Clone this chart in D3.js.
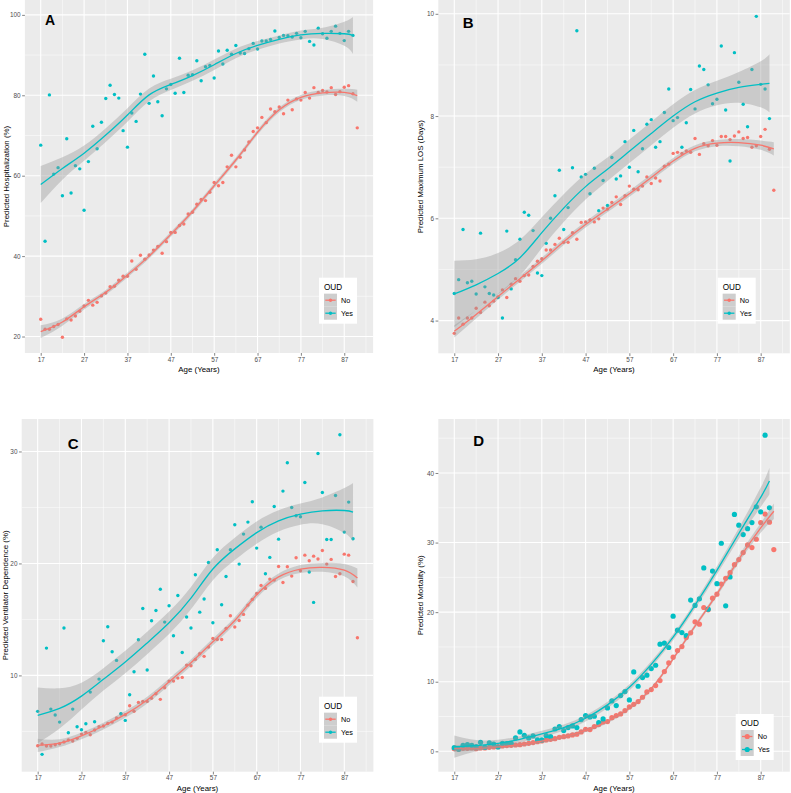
<!DOCTYPE html>
<html><head><meta charset="utf-8">
<script src="https://cdn.jsdelivr.net/npm/d3@7"></script>
<style>body{margin:0;background:#fff} svg{display:block} text{font-family:"Liberation Sans",Arial,sans-serif}</style>
</head><body><svg id="c" width="791" height="793"></svg>
<script>
// ---------- DATA ----------
const groups = ["No", "Yes"];
const groupColors = ["#F8766D", "#00BFC4"];
const agesNo = [17,18,19,20,21,22,23,24,25,26,27,28,29,30,31,32,33,34,35,36,37,38,39,40,41,42,43,44,45,46,47,48,49,50,51,52,53,54,55,56,57,58,59,60,61,62,63,64,65,66,67,68,69,70,71,72,73,74,75,76,77,78,79,80,81,82,83,84,85,86,87,88,89,90];
const agesYes = [17,18,19,20,21,22,23,24,25,26,27,28,29,30,31,32,33,34,35,36,37,38,39,40,41,42,43,44,45,46,47,48,49,50,51,52,53,54,55,56,57,58,59,60,61,62,63,64,65,66,67,68,69,70,71,72,73,74,75,76,77,78,79,80,81,82,83,84,85,86,87,88,89];
const xTicks = [17,27,37,47,57,67,77,87];
const xMinor = [22,32,42,52,62,72,82,92];

// Panel A: hospitalization (%)
const hospNo = [24.3,21.8,21.8,22.5,23.0,19.8,24.4,24.1,25.1,26.3,27.6,29.0,27.8,28.5,30.1,30.8,32.4,32.5,34.0,35.0,35.0,38.8,36.7,40.2,39.2,40.3,41.5,42.4,40.7,43.6,45.9,45.9,47.6,48.0,50.5,50.9,52.9,54.1,53.8,55.9,58.3,57.5,58.3,62.2,65.1,62.2,64.6,66.4,68.4,71.0,71.9,74.5,73.2,76.6,75.9,77.1,75.4,78.8,76.4,79.1,78.8,80.7,79.3,81.9,80.7,81.2,80.8,81.9,80.2,80.9,82.0,82.4,80.4,71.9];
const hospYes = [67.6,43.7,80.1,60.4,62.0,55.0,69.2,55.7,62.5,61.7,51.4,63.5,72.3,66.7,73.3,79.2,82.5,80.2,79.3,71.2,67.1,75.6,73.5,80.3,90.2,78.0,84.8,78.4,74.9,81.6,82.7,80.5,89.2,80.7,85.0,85.1,88.6,83.6,87.1,87.4,84.3,91.0,87.8,91.2,90.2,92.4,90.5,90.4,91.6,92.9,91.5,93.5,93.5,93.9,96.0,94.4,94.9,94.8,94.5,95.4,94.3,95.9,93.4,92.5,96.7,95.3,94.2,95.9,97.2,95.4,93.6,95.9,94.9];
// Panel B: maximum LOS (days)
const losNo = [3.75,4.05,3.93,4.05,4.05,4.24,4.16,4.36,4.29,4.38,4.46,4.60,4.45,4.71,4.82,4.77,4.88,4.89,5.06,5.16,5.21,5.38,5.38,5.49,5.61,5.53,5.53,5.72,5.59,5.92,5.93,5.97,5.93,5.99,6.20,6.18,6.31,6.42,6.27,6.44,6.63,6.57,6.56,6.63,6.81,6.68,6.79,6.73,7.02,7.06,7.27,7.29,7.27,7.32,7.29,7.56,7.25,7.46,7.42,7.52,7.43,7.60,7.60,7.54,7.61,7.69,7.56,7.58,7.39,7.42,7.60,7.74,7.35,6.55];
const losYes = [4.53,4.80,5.78,4.74,4.77,4.52,5.71,4.66,4.53,4.50,4.45,4.05,5.75,4.62,5.19,5.59,6.12,6.06,5.76,4.93,4.88,5.51,6.00,6.44,6.94,5.78,6.21,6.99,9.67,6.81,6.86,6.48,6.98,6.15,6.74,6.25,7.19,6.77,6.83,7.50,7.00,7.72,6.91,7.36,7.84,7.93,7.39,7.50,8.07,8.53,7.91,7.97,7.39,7.87,8.52,8.14,8.98,8.91,8.61,8.24,8.33,9.37,8.12,7.12,9.24,8.66,8.23,7.79,8.91,9.95,8.62,8.53,7.95];
// Panel C: ventilator dependence (%)
const ventNo = [3.72,3.87,3.69,3.69,3.81,3.90,4.05,4.23,4.14,4.38,4.76,4.91,4.70,5.12,5.42,5.48,5.71,5.83,6.19,6.55,6.49,7.29,6.79,7.59,7.68,7.68,7.95,8.36,7.86,8.90,9.49,9.49,9.76,9.82,10.92,10.86,11.43,11.93,11.70,12.53,13.30,13.21,13.21,14.20,15.33,14.32,14.91,15.45,16.28,16.79,17.32,18.04,17.77,18.60,18.51,19.73,18.30,19.70,18.87,20.51,19.35,20.74,20.24,20.65,20.39,21.16,19.94,20.36,18.84,19.08,20.83,20.74,18.39,13.36];
const ventYes = [6.79,2.95,12.44,6.99,6.46,5.83,14.23,4.88,6.99,5.42,5.15,5.68,8.51,5.86,9.67,13.10,14.35,12.11,11.34,6.58,5.98,8.27,10.33,13.18,15.98,10.48,14.88,15.80,17.70,14.76,16.22,13.54,17.14,12.05,15.21,14.23,18.99,15.65,16.82,20.09,14.70,21.22,16.31,18.84,21.22,23.45,19.94,22.62,23.69,25.51,21.37,23.24,19.08,20.54,25.09,22.17,26.46,28.99,25.00,24.26,24.17,27.23,19.23,16.52,29.82,26.34,22.14,22.14,26.07,31.49,22.80,25.48,22.20];
// Panel D: mortality (%)
const mortNo = [0.38,0.29,0.43,0.43,0.48,0.38,0.48,0.48,0.58,0.62,0.67,0.77,0.82,0.86,0.91,0.96,1.05,1.15,1.25,1.39,1.49,1.63,1.73,1.82,2.01,2.11,2.21,2.35,2.45,2.78,3.17,3.12,3.55,3.84,4.22,4.27,4.84,5.13,5.37,5.85,6.38,6.76,7.15,7.77,8.54,8.87,9.45,10.17,11.46,12.71,13.53,14.48,15.06,16.35,17.03,18.61,18.27,20.67,20.34,22.01,22.59,24.04,24.86,25.67,26.83,27.55,28.56,29.66,29.28,30.48,32.88,34.09,32.93,28.99];
const mortYes = [0.53,0.29,0.86,0.96,0.86,0.67,1.29,0.58,1.20,1.05,0.62,1.15,1.10,1.15,1.92,2.78,2.30,1.92,2.21,1.63,1.63,2.25,2.11,3.21,3.55,2.98,3.41,3.65,3.41,4.56,5.13,4.94,5.04,4.12,4.65,6.24,7.24,6.57,8.01,8.59,7.39,11.41,9.35,10.60,10.94,11.89,12.37,15.40,15.54,14.92,19.42,17.41,17.07,16.64,21.73,20.96,21.92,26.35,20.43,25.91,24.09,29.90,20.91,25.05,34.04,32.50,31.15,32.00,32.88,35.14,34.42,45.43,35.00];

// Smoothed fits (loess) and ribbon half-widths
const fitAgesNo  = [17,22,27,32,37,42,47,52,57,62,67,72,77,82,87,90];
const fitAgesYes = [17,22,27,32,37,42,47,52,57,62,67,72,77,82,87,89];
const hospFitNo  = [21.2,23.6,27.4,31.0,35.3,40.0,45.4,51.1,57.5,63.9,70.8,76.4,79.5,80.6,80.7,79.9];
const hospSeNo   = [1.6,0.9,0.7,0.6,0.6,0.6,0.6,0.6,0.6,0.6,0.6,0.6,0.6,0.7,0.9,1.5];
const hospFitYes = [57.8,61.8,65.6,70.1,75.1,80.1,82.7,84.9,87.6,90.4,92.4,93.9,95.0,95.4,95.3,94.9];
const hospSeYes  = [4.6,2.8,1.9,1.7,1.7,1.6,1.4,1.3,1.3,1.2,1.1,1.0,1.1,1.4,3.0,4.6];
const losFitNo   = [3.79,4.12,4.47,4.82,5.17,5.54,5.88,6.18,6.48,6.80,7.12,7.37,7.47,7.48,7.43,7.36];
const losSeNo    = [0.12,0.08,0.06,0.06,0.06,0.06,0.06,0.06,0.06,0.06,0.06,0.06,0.06,0.07,0.09,0.13];
const losFitYes  = [4.52,4.70,4.92,5.23,5.72,6.20,6.62,6.96,7.31,7.66,8.00,8.28,8.45,8.56,8.62,8.64];
const losSeYes   = [0.65,0.50,0.40,0.35,0.30,0.27,0.25,0.23,0.23,0.23,0.23,0.23,0.24,0.30,0.45,0.57];
const ventFitNo  = [3.75,3.95,4.60,5.48,6.52,7.80,9.43,11.13,13.0,14.9,17.2,18.8,19.5,19.65,19.4,18.7];
const ventSeNo   = [0.6,0.35,0.3,0.3,0.3,0.3,0.3,0.3,0.3,0.3,0.3,0.3,0.35,0.4,0.55,0.85];
const ventFitYes = [6.43,7.05,8.15,9.65,11.2,12.9,14.7,16.9,19.5,21.3,22.75,23.8,24.4,24.7,24.73,24.58];
const ventSeYes  = [2.5,1.8,1.2,1.0,1.0,1.0,1.0,1.0,1.0,1.0,1.0,0.95,0.95,1.2,2.0,2.6];
const mortFitNo  = [0.40,0.42,0.65,0.95,1.45,2.10,3.00,4.30,6.20,9.00,13.3,18.0,22.6,27.6,32.1,34.5];
const mortSeNo   = [0.5,0.3,0.25,0.25,0.25,0.25,0.25,0.25,0.25,0.25,0.25,0.3,0.35,0.5,0.7,1.1];
const mortFitYes = [0.67,0.82,1.15,1.73,2.50,3.41,4.75,6.67,9.20,12.5,16.4,21.0,26.0,31.3,36.5,38.85];
const mortSeYes  = [1.6,0.8,0.5,0.45,0.45,0.45,0.45,0.45,0.45,0.45,0.45,0.5,0.6,0.8,1.4,1.9];

const hospTicks = [20,40,60,80,100], hospMinor = [30,50,70,90];
const losTicks = [4,6,8,10], losMinor = [5,7,9];
const ventTicks = [10,20,30], ventMinor = [5,15,25];
const mortTicks = [0,10,20,30,40], mortMinor = [5,15,25,35,45];

// ---------- LAYOUT ----------
const xDomain = [13.35, 93.65];
const panels = [
  {tag:"A", tagFont:"Liberation Sans", tagSize:14, tagX:45, tagY:25,
   left:24.9, right:373.1, top:0, bottom:353, yDomain:[15.9,103.7],
   ticks:hospTicks, minor:hospMinor, title:"Predicted Hospitalization (%)", titleX:6,
   no:hospNo, yes:hospYes, fitNo:hospFitNo, seNo:hospSeNo, fitYes:hospFitYes, seYes:hospSeYes,
   legX:319, legY:277.7, r:1.7},
  {tag:"B", tagFont:"Liberation Sans", tagSize:15, tagX:462.7, tagY:28.3,
   left:438.3, right:789.8, top:0, bottom:353.3, yDomain:[3.36,10.27],
   ticks:losTicks, minor:losMinor, title:"Predicted Maximum LOS (Days)", titleX:420,
   no:losNo, yes:losYes, fitNo:losFitNo, seNo:losSeNo, fitYes:losFitYes, seYes:losSeYes,
   legX:717.7, legY:277.7, r:1.7},
  {tag:"C", tagFont:"Lato", tagSize:15, tagX:67.7, tagY:449,
   left:21.7, right:373.4, top:419, bottom:771.7, yDomain:[1.4,32.9],
   ticks:ventTicks, minor:ventMinor, title:"Predicted Ventilator Dependence (%)", titleX:5,
   no:ventNo, yes:ventYes, fitNo:ventFitNo, seNo:ventSeNo, fitYes:ventFitYes, seYes:ventSeYes,
   legX:319, legY:696.7, r:1.7},
  {tag:"D", tagFont:"Liberation Sans", tagSize:15, tagX:473.3, tagY:445.7,
   left:438.3, right:789.8, top:419, bottom:771.7, yDomain:[-2.93,47.76],
   ticks:mortTicks, minor:mortMinor, title:"Predicted Mortality (%)", titleX:420,
   no:mortNo, yes:mortYes, fitNo:mortFitNo, seNo:mortSeNo, fitYes:mortFitYes, seYes:mortSeYes,
   legX:735.7, legY:714, r:2.6}
];

const svg = d3.select("#c");

panels.forEach((p, pi) => {
  const g = svg.append("g");
  const x = d3.scaleLinear().domain(xDomain).range([p.left, p.right]);
  const y = d3.scaleLinear().domain(p.yDomain).range([p.bottom, p.top]);
  const clipId = "clip" + pi;
  svg.append("clipPath").attr("id", clipId).append("rect")
    .attr("x", p.left).attr("y", p.top).attr("width", p.right - p.left).attr("height", p.bottom - p.top);

  g.append("rect").attr("x", p.left).attr("y", p.top)
    .attr("width", p.right - p.left).attr("height", p.bottom - p.top).attr("fill", "#EBEBEB");

  const grid = g.append("g").attr("clip-path", `url(#${clipId})`);
  grid.selectAll(".vmin").data(xMinor).join("line").attr("class","vmin")
    .attr("x1", d => x(d)).attr("x2", d => x(d)).attr("y1", p.top).attr("y2", p.bottom)
    .attr("stroke", "#fff").attr("stroke-width", 0.5);
  grid.selectAll(".hmin").data(p.minor).join("line").attr("class","hmin")
    .attr("y1", d => y(d)).attr("y2", d => y(d)).attr("x1", p.left).attr("x2", p.right)
    .attr("stroke", "#fff").attr("stroke-width", 0.5);
  grid.selectAll(".vmaj").data(xTicks).join("line").attr("class","vmaj")
    .attr("x1", d => x(d)).attr("x2", d => x(d)).attr("y1", p.top).attr("y2", p.bottom)
    .attr("stroke", "#fff").attr("stroke-width", 1.1);
  grid.selectAll(".hmaj").data(p.ticks).join("line").attr("class","hmaj")
    .attr("y1", d => y(d)).attr("y2", d => y(d)).attr("x1", p.left).attr("x2", p.right)
    .attr("stroke", "#fff").attr("stroke-width", 1.1);

  // points
  const pts = g.append("g").attr("clip-path", `url(#${clipId})`);
  [[agesNo, p.no, 0], [agesYes, p.yes, 1]].forEach(([ages, vals, gi]) => {
    pts.selectAll(".pt" + gi).data(vals).join("circle").attr("class", "pt" + gi)
      .attr("cx", (d, i) => x(ages[i])).attr("cy", d => y(d)).attr("r", p.r)
      .attr("fill", groupColors[gi]);
  });

  // smooths
  const sm = g.append("g").attr("clip-path", `url(#${clipId})`);
  [[fitAgesNo, p.fitNo, p.seNo, 0], [fitAgesYes, p.fitYes, p.seYes, 1]].forEach(([fa, fit, se, gi]) => {
    const rows = fa.map((a, i) => ({a, f: fit[i], s: se[i]}));
    const area = d3.area().x(d => x(d.a)).y0(d => y(d.f - d.s)).y1(d => y(d.f + d.s)).curve(d3.curveNatural);
    const line = d3.line().x(d => x(d.a)).y(d => y(d.f)).curve(d3.curveNatural);
    sm.append("path").datum(rows).attr("d", area).attr("fill", "#999999").attr("fill-opacity", 0.4);
    sm.append("path").datum(rows).attr("d", line).attr("fill", "none")
      .attr("stroke", groupColors[gi]).attr("stroke-width", 1.3);
  });

  // axes
  const fmt = d3.format("d");
  const xa = g.append("g").attr("transform", `translate(0,${p.bottom})`)
    .call(d3.axisBottom(x).tickValues(xTicks).tickFormat(fmt).tickSize(2.75).tickPadding(1.5));
  const ya = g.append("g").attr("transform", `translate(${p.left},0)`)
    .call(d3.axisLeft(y).tickValues(p.ticks).tickFormat(fmt).tickSize(2.75).tickPadding(1.5));
  [xa, ya].forEach(a => {
    a.select(".domain").remove();
    a.selectAll(".tick line").attr("stroke", "#333333").attr("stroke-width", 0.6);
    a.selectAll(".tick text").attr("fill", "#4D4D4D").attr("font-size", 6.4)
      .attr("font-family", "Liberation Sans, Arial, sans-serif");
  });

  g.append("text").attr("x", (p.left + p.right) / 2).attr("y", p.bottom + 19)
    .attr("text-anchor", "middle").attr("font-size", 7.9).attr("fill", "#000").text("Age (Years)");
  g.append("text").attr("transform", `translate(${p.titleX + 2.8},${(p.top + p.bottom) / 2}) rotate(-90)`)
    .attr("text-anchor", "middle").attr("font-size", 7.9).attr("fill", "#000").text(p.title);

  // panel tag
  g.append("text").attr("x", p.tagX).attr("y", p.tagY).attr("font-weight", "bold")
    .attr("font-family", p.tagFont).attr("font-size", p.tagSize).attr("fill", "#000").text(p.tag);

  // legend
  const lg = g.append("g").attr("transform", `translate(${p.legX},${p.legY})`);
  lg.append("rect").attr("width", 38).attr("height", 46).attr("fill", "#fff");
  lg.append("text").attr("x", 5).attr("y", 12).attr("font-size", 8.2).attr("fill", "#000").text("OUD");
  groups.forEach((name, gi) => {
    const ky = 16 + gi * 13;
    lg.append("rect").attr("x", 5).attr("y", ky).attr("width", 13).attr("height", 13).attr("fill", "#F2F2F2");
    lg.append("rect").attr("x", 5).attr("y", ky).attr("width", 13).attr("height", 13).attr("fill", "#999999").attr("fill-opacity", 0.4);
    lg.append("line").attr("x1", 6.3).attr("x2", 16.7).attr("y1", ky + 6.5).attr("y2", ky + 6.5)
      .attr("stroke", groupColors[gi]).attr("stroke-width", 1.3);
    lg.append("circle").attr("cx", 11.5).attr("cy", ky + 6.5).attr("r", p.r).attr("fill", groupColors[gi]);
    lg.append("text").attr("x", 22).attr("y", ky + 9).attr("font-size", 7.3).attr("fill", "#000").text(name);
  });
});
</script></body></html>
